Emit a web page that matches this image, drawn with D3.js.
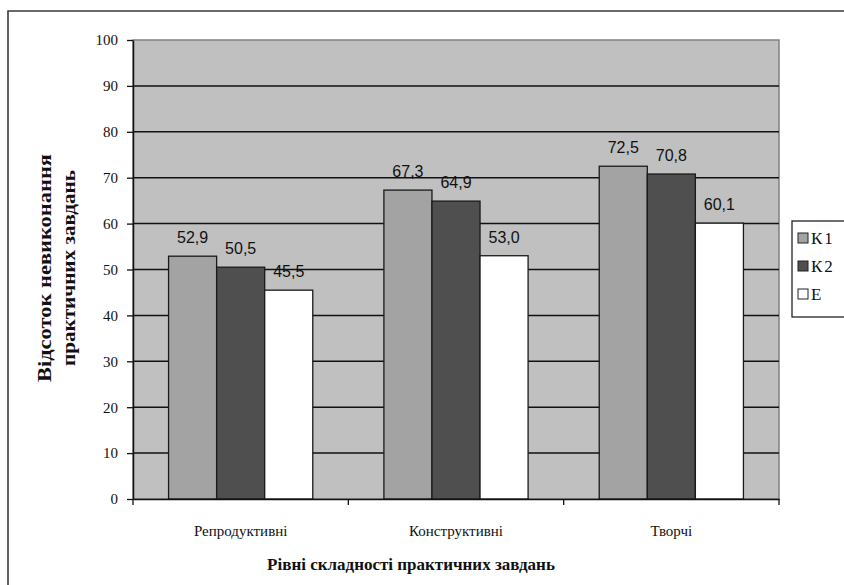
<!DOCTYPE html>
<html>
<head>
<meta charset="utf-8">
<script src="https://cdn.jsdelivr.net/npm/d3@7"></script>
<style>
  html, body { margin: 0; padding: 0; background: #fff; }
  svg { display: block; }
  .serif { font-family: "Liberation Serif", "DejaVu Serif", "Times New Roman", serif; }
  .sans { font-family: "Liberation Sans", Arial, sans-serif; }
</style>
</head>
<body>
<svg id="chart" width="844" height="585"></svg>
<script>
// Categories of practical tasks and the share of unsolved tasks per group
const categories = ["Репродуктивні", "Конструктивні", "Творчі"];
const seriesNames = ["К1", "К2", "Е"];
const seriesK1 = [52.9, 67.3, 72.5];
const seriesK2 = [50.5, 64.9, 70.8];
const seriesE  = [45.5, 53.0, 60.1];
const yTicks = [0, 10, 20, 30, 40, 50, 60, 70, 80, 90, 100];

const seriesValues = [seriesK1, seriesK2, seriesE];
const fills = ["#a3a3a3", "#4f4f4f", "#ffffff"];

const svg = d3.select("#chart");
const plot = { left: 133, right: 779, top: 40, bottom: 499 };

// Outer chart frame
svg.append("path")
  .attr("d", "M8,590 L8,11 L850,11")
  .attr("fill", "none").attr("stroke", "#3a3a3a").attr("stroke-width", 1.6);

const x0 = d3.scaleBand().domain(categories).range([plot.left, plot.right]);
const x1 = d3.scaleBand().domain(seriesNames).range([0, x0.bandwidth()]).paddingOuter(0.74);
const y = d3.scaleLinear().domain([0, 100]).range([plot.bottom, plot.top]);

// Plot area background
svg.append("rect")
  .attr("x", plot.left).attr("y", plot.top)
  .attr("width", plot.right - plot.left).attr("height", plot.bottom - plot.top)
  .attr("fill", "#c0c0c0").attr("stroke", "#808080").attr("stroke-width", 1.5);

// Horizontal gridlines
svg.append("g").selectAll("line")
  .data(yTicks.filter(t => t > 0 && t < 100))
  .join("line")
  .attr("x1", plot.left).attr("x2", plot.right)
  .attr("y1", d => y(d)).attr("y2", d => y(d))
  .attr("stroke", "#111").attr("stroke-width", 1.5);

// Bars
const rows = categories.map((c, i) => ({
  cat: c,
  vals: seriesNames.map((s, j) => ({ s, j, v: seriesValues[j][i] }))
}));

const groups = svg.append("g").selectAll("g")
  .data(rows).join("g")
  .attr("transform", d => `translate(${x0(d.cat)},0)`);

groups.selectAll("rect")
  .data(d => d.vals).join("rect")
  .attr("x", d => x1(d.s))
  .attr("y", d => y(d.v))
  .attr("width", x1.bandwidth())
  .attr("height", d => y(0) - y(d.v))
  .attr("fill", d => fills[d.j])
  .attr("stroke", "#1a1a1a").attr("stroke-width", 1.3);

// Value labels above bars
groups.selectAll("text")
  .data(d => d.vals).join("text")
  .attr("class", "sans")
  .attr("x", d => x1(d.s) + x1.bandwidth() / 2)
  .attr("y", d => y(d.v) - 13)
  .attr("text-anchor", "middle")
  .style("font-size", "16px").attr("fill", "#111")
  .text(d => d3.format(".1f")(d.v).replace(".", ","));

// Y axis
const yAxis = svg.append("g")
  .attr("transform", `translate(${plot.left},0)`)
  .call(d3.axisLeft(y).tickValues(yTicks).tickSize(6).tickPadding(9).tickSizeOuter(0));
yAxis.attr("font-family", null).attr("font-size", null);
yAxis.select(".domain").attr("stroke", "#111").attr("stroke-width", 1.5);
yAxis.selectAll(".tick line").attr("stroke", "#111").attr("stroke-width", 1.3);
yAxis.selectAll("text").attr("class", "serif").style("font-size", "15px").attr("fill", "#111");

// X axis
const xAxis = svg.append("g")
  .attr("transform", `translate(0,${plot.bottom})`)
  .call(d3.axisBottom(x0).tickSize(0).tickPadding(0).tickSizeOuter(0));
xAxis.attr("font-family", null).attr("font-size", null);
xAxis.select(".domain").attr("stroke", "#111").attr("stroke-width", 1.5);
xAxis.selectAll(".tick text")
  .attr("y", 26)
  .attr("class", "serif").style("font-size", "15px").attr("fill", "#111");

// Category separators on the x axis
const sepX = [plot.left, ...categories.slice(1).map(c => x0(c)), plot.right];
svg.append("g").selectAll("line")
  .data(sepX).join("line")
  .attr("x1", d => d).attr("x2", d => d)
  .attr("y1", plot.bottom).attr("y2", plot.bottom + 6)
  .attr("stroke", "#111").attr("stroke-width", 1.3);

// Axis titles
svg.append("text")
  .attr("class", "serif")
  .attr("x", (plot.left + plot.right) / 2 - 45).attr("y", 570)
  .attr("text-anchor", "middle")
  .style("font-weight", "bold").style("font-size", "17px")
  .attr("fill", "#111")
  .text("Рівні складності практичних завдань");

const yTitle = svg.append("text")
  .attr("class", "serif")
  .attr("transform", "translate(0,268) rotate(-90)")
  .attr("text-anchor", "middle")
  .style("font-weight", "bold").style("font-size", "18px")
  .attr("fill", "#111");
yTitle.append("tspan").attr("x", 0).attr("y", 51)
  .attr("textLength", 228).attr("lengthAdjust", "spacingAndGlyphs")
  .text("Відсоток невиконання");
yTitle.append("tspan").attr("x", 0).attr("y", 75)
  .attr("textLength", 196).attr("lengthAdjust", "spacingAndGlyphs")
  .text("практичних завдань");

// Legend
const legend = svg.append("g").attr("transform", "translate(792,221)");
legend.append("rect")
  .attr("x", 0).attr("y", 0).attr("width", 70).attr("height", 96)
  .attr("fill", "#fff").attr("stroke", "#222").attr("stroke-width", 1.3);
const items = legend.selectAll("g.item")
  .data(seriesNames).join("g")
  .attr("class", "item")
  .attr("transform", (d, i) => `translate(6,${18 + i * 28})`);
items.append("rect")
  .attr("x", 0).attr("y", -6).attr("width", 10).attr("height", 10)
  .attr("fill", (d, i) => fills[i]).attr("stroke", "#222").attr("stroke-width", 1);
items.append("text")
  .attr("class", "serif")
  .attr("x", 13).attr("y", 5)
  .style("font-size", "17px").attr("fill", "#111")
  .attr("letter-spacing", 2)
  .text(d => d);
</script>
</body>
</html>
